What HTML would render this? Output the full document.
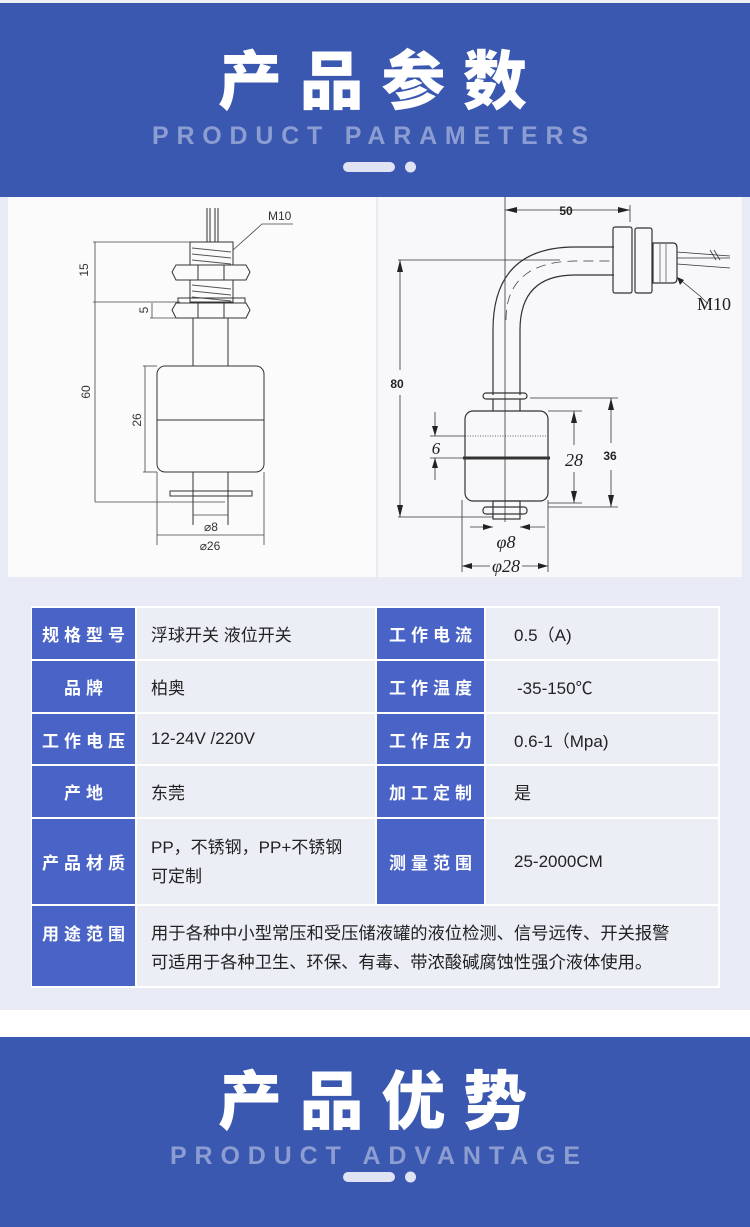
<!DOCTYPE html>
<html><head><meta charset="utf-8"><style>
*{margin:0;padding:0;box-sizing:border-box}
body{width:750px;height:1227px;position:relative;overflow:hidden;background:#fff;font-family:"Liberation Sans","Noto Sans CJK SC",sans-serif}
.abs{position:absolute}
.lab{position:absolute;background:#4a63c6;color:#fff;font-family:"Noto Sans CJK SC",sans-serif;font-weight:700;font-size:17px;letter-spacing:5px;text-indent:5px;display:flex;align-items:center;justify-content:center}
.val{position:absolute;background:#eceef6;color:#222;font-family:"Liberation Sans","Noto Sans CJK SC",sans-serif;font-size:17px;display:flex;align-items:center}
</style></head><body>
<!-- header -->
<div class="abs" style="left:0;top:0;width:750px;height:3px;background:#eef0f4"></div>
<div class="abs" style="left:0;top:3px;width:750px;height:194px;background:#3b58b0"></div>
<svg class="abs" style="left:0;top:0" width="750" height="197">
<text x="218" y="104" textLength="309" lengthAdjust="spacing" font-family="Noto Sans CJK SC" font-weight="900" font-size="64" fill="#fff">产品参数</text>
<text x="152" y="144" textLength="436" lengthAdjust="spacing" font-family="Liberation Sans" font-weight="700" font-size="25" fill="#8c9dd2">PRODUCT PARAMETERS</text>
<rect x="343" y="162" width="52" height="10" rx="5" fill="#dfe3f3"/>
<ellipse cx="410.5" cy="167" rx="5.5" ry="5.5" fill="#dfe3f3"/>
</svg>
<!-- diagram band -->
<div class="abs" style="left:0;top:197px;width:750px;height:413px;background:#e8ebf5"></div>
<div class="abs" style="left:8px;top:197px;width:368px;height:380px;background:#fbfbfc"></div>
<div class="abs" style="left:378px;top:197px;width:364px;height:380px;background:#f8f8fa"></div>
<svg class="abs" style="left:0;top:197px" width="750" height="380" viewBox="0 197 750 380" fill="none" stroke="#333" stroke-width="1">
<g>
<line x1="207" y1="208" x2="207" y2="242"/><line x1="210" y1="208" x2="210" y2="242"/>
<line x1="215" y1="208" x2="215" y2="242"/><line x1="218" y1="208" x2="218" y2="242"/>
<path d="M190 242h43v23h-43z M190 302h43v-22h-43z"/>
<path d="M192 248l39 4M192 254l39 4M192 260l39 4M192 285l39 4M192 291l39 4M192 297l39 4" stroke="#555"/>
<path d="M176 265h70l4 7-4 8h-70l-4-8z M198 265v15M224 265v15"/>
<rect x="178" y="298" width="67" height="5"/>
<path d="M176 303h70l4 7-4 8h-70l-4-8z M198 303v15M224 303v15"/>
<line x1="193" y1="318" x2="193" y2="366"/><line x1="228" y1="318" x2="228" y2="366"/>
<rect x="157" y="366" width="107" height="106" rx="8"/>
<line x1="157" y1="420" x2="264" y2="420"/>
<line x1="193" y1="472" x2="193" y2="525"/><line x1="228" y1="472" x2="228" y2="525"/>
<rect x="170" y="491" width="82" height="5"/>
<g stroke="#444" stroke-width="0.8">
<line x1="93" y1="242" x2="190" y2="242"/><line x1="93" y1="302" x2="180" y2="302"/>
<line x1="95" y1="242" x2="95" y2="502"/><line x1="95" y1="502" x2="225" y2="502"/>
<line x1="152" y1="303" x2="152" y2="318"/><line x1="150" y1="318" x2="176" y2="318"/>
<line x1="145" y1="366" x2="145" y2="472"/><line x1="143" y1="366" x2="157" y2="366"/><line x1="143" y1="472" x2="157" y2="472"/>
<line x1="193" y1="515" x2="228" y2="515"/>
<line x1="157" y1="472" x2="157" y2="545"/><line x1="264" y1="472" x2="264" y2="545"/>
<line x1="157" y1="535" x2="264" y2="535"/>
<path d="M293 224h-31l-29 26"/>
</g>
<g fill="#333" stroke="none" font-family="Liberation Sans" font-size="12">
<text x="268" y="220">M10</text>
<text transform="translate(88,270) rotate(-90)" text-anchor="middle">15</text>
<text transform="translate(148,310) rotate(-90)" text-anchor="middle">5</text>
<text transform="translate(90,392) rotate(-90)" text-anchor="middle">60</text>
<text transform="translate(141,420) rotate(-90)" text-anchor="middle">26</text>
<text x="211" y="531" text-anchor="middle">⌀8</text>
<text x="210" y="550" text-anchor="middle">⌀26</text>
</g>
</g>
<g stroke-width="1.2">
<line x1="505" y1="197" x2="505" y2="522" stroke-width="0.8"/>
<path d="M493 395V330Q493 247 575 247H614"/>
<path d="M520 395V330Q520 275 575 275H614"/>
<path d="M506 320Q506 262 575 261H612" stroke-dasharray="10 6" stroke-width="0.7"/>
<rect x="613" y="227" width="19" height="66" rx="2"/>
<rect x="635" y="228" width="17" height="65" rx="2"/>
<path d="M653 243h20q4 0 4 5v30q0 5-4 5h-20z"/>
<path d="M660 244v38M666 244v38" stroke-width="0.6"/>
<path d="M677 252l53 4M677 258l53 0M677 264l53 4" stroke-width="0.8"/>
<path d="M710 250l6 10M714 250l6 10" stroke-width="0.8"/>
<rect x="483" y="393" width="44" height="6" rx="3"/>
<line x1="493" y1="399" x2="493" y2="411"/><line x1="520" y1="399" x2="520" y2="411"/>
<rect x="465" y="411" width="83" height="90" rx="8"/>
<line x1="463" y1="458" x2="550" y2="458" stroke-width="3"/>
<line x1="465" y1="436" x2="548" y2="436" stroke-dasharray="1 1.5" stroke-width="0.8"/>
<rect x="483" y="507" width="44" height="7" rx="3"/>
<rect x="493" y="501" width="27" height="18"/>
<g stroke-width="0.8">
<line x1="505" y1="210" x2="630" y2="210"/><line x1="630" y1="205" x2="630" y2="222"/>
<line x1="398" y1="260" x2="560" y2="260"/><line x1="398" y1="517" x2="493" y2="517"/>
<line x1="400" y1="260" x2="400" y2="370"/><line x1="400" y1="395" x2="400" y2="517"/>
<line x1="430" y1="436" x2="465" y2="436"/><line x1="430" y1="458" x2="463" y2="458"/>
<line x1="435" y1="412" x2="435" y2="436"/><line x1="435" y1="458" x2="435" y2="480"/>
<line x1="548" y1="411" x2="582" y2="411"/><line x1="548" y1="503" x2="582" y2="503"/>
<line x1="574" y1="411" x2="574" y2="445"/><line x1="574" y1="472" x2="574" y2="503"/>
<line x1="530" y1="398" x2="618" y2="398"/><line x1="548" y1="507" x2="618" y2="507"/>
<line x1="611" y1="398" x2="611" y2="443"/><line x1="611" y1="470" x2="611" y2="507"/>
<line x1="470" y1="527" x2="493" y2="527"/><line x1="520" y1="527" x2="545" y2="527"/>
<line x1="462" y1="500" x2="462" y2="572"/><line x1="548" y1="500" x2="548" y2="572"/>
<line x1="462" y1="566" x2="490" y2="566"/><line x1="522" y1="566" x2="548" y2="566"/>
<path d="M700 296l-22-18"/><path d="M700 296l8 8"/>
</g>
<g fill="#222" stroke="none">
<path d="M505 210l12-3v6z M630 210l-12-3v6z"/>
<path d="M400 260l-3 12h6z M400 517l-3-12h6z"/>
<path d="M435 436l-3-10h6z M435 458l-3 10h6z"/>
<path d="M574 411l-3 12h6z M574 503l-3-12h6z"/>
<path d="M611 398l-3 12h6z M611 507l-3-12h6z"/>
<path d="M493 527l-10-3v6z M520 527l10-3v6z"/>
<path d="M462 566l10-3v6z M548 566l-10-3v6z"/>
<path d="M677 277l3 8 4-5z"/>
</g>
<g fill="#222" stroke="none">
<text x="566" y="215" text-anchor="middle" font-family="Liberation Sans" font-weight="700" font-size="12">50</text>
<text x="397" y="388" text-anchor="middle" font-family="Liberation Sans" font-weight="700" font-size="12">80</text>
<text x="610" y="460" text-anchor="middle" font-family="Liberation Sans" font-weight="700" font-size="12">36</text>
<text x="697" y="310" font-family="Liberation Serif" font-size="18">M10</text>
<text x="436" y="454" text-anchor="middle" font-family="Liberation Serif" font-style="italic" font-size="17">6</text>
<text x="574" y="466" text-anchor="middle" font-family="Liberation Serif" font-style="italic" font-size="18">28</text>
<text x="506" y="548" text-anchor="middle" font-family="Liberation Serif" font-style="italic" font-size="18">φ8</text>
<text x="506" y="572" text-anchor="middle" font-family="Liberation Serif" font-style="italic" font-size="18">φ28</text>
</g>
</g>
</svg>
<!-- table area -->
<div class="abs" style="left:0;top:577px;width:750px;height:433px;background:#e8ebf5"></div>
<div class="abs" style="left:31px;top:606px;width:689px;height:382px;background:#fff"></div>

<div class="lab" style="left:32px;top:608px;width:103px;height:51px">规格型号</div>
<div class="val" style="left:137px;top:608px;width:238px;height:51px;padding-left:14px">浮球开关 液位开关</div>
<div class="lab" style="left:377px;top:608px;width:107px;height:51px">工作电流</div>
<div class="val" style="left:486px;top:608px;width:232px;height:51px;padding-left:28px">0.5（A)</div>

<div class="lab" style="left:32px;top:661px;width:103px;height:51px">品牌</div>
<div class="val" style="left:137px;top:661px;width:238px;height:51px;padding-left:14px">柏奥</div>
<div class="lab" style="left:377px;top:661px;width:107px;height:51px">工作温度</div>
<div class="val" style="left:486px;top:661px;width:232px;height:51px;padding-left:31px">-35-150℃</div>

<div class="lab" style="left:32px;top:714px;width:103px;height:50px">工作电压</div>
<div class="val" style="left:137px;top:714px;width:238px;height:50px;padding-left:14px">12-24V /220V</div>
<div class="lab" style="left:377px;top:714px;width:107px;height:50px">工作压力</div>
<div class="val" style="left:486px;top:714px;width:232px;height:50px;padding-left:28px">0.6-1（Mpa)</div>

<div class="lab" style="left:32px;top:766px;width:103px;height:51px">产地</div>
<div class="val" style="left:137px;top:766px;width:238px;height:51px;padding-left:14px">东莞</div>
<div class="lab" style="left:377px;top:766px;width:107px;height:51px">加工定制</div>
<div class="val" style="left:486px;top:766px;width:232px;height:51px;padding-left:28px">是</div>

<div class="lab" style="left:32px;top:819px;width:103px;height:85px">产品材质</div>
<div class="val" style="left:137px;top:819px;width:238px;height:85px;padding-left:14px;line-height:29px">PP，不锈钢，PP+不锈钢<br>可定制</div>
<div class="lab" style="left:377px;top:819px;width:107px;height:85px">测量范围</div>
<div class="val" style="left:486px;top:819px;width:232px;height:85px;padding-left:28px">25-2000CM</div>

<div class="lab" style="left:32px;top:906px;width:103px;height:80px;align-items:flex-start;padding-top:14px">用途范围</div>
<div class="val" style="left:137px;top:906px;width:581px;height:80px;padding-left:14px;align-items:flex-start;padding-top:13px;line-height:29px;font-size:17.3px">用于各种中小型常压和受压储液罐的液位检测、信号远传、开关报警<br>可适用于各种卫生、环保、有毒、带浓酸碱腐蚀性强介液体使用。</div>

<!-- footer -->
<div class="abs" style="left:0;top:1037px;width:750px;height:190px;background:#3b58b0"></div>
<svg class="abs" style="left:0;top:1037px" width="750" height="190" viewBox="0 1037 750 190">
<text x="218" y="1124" textLength="309" lengthAdjust="spacing" font-family="Noto Sans CJK SC" font-weight="900" font-size="64" fill="#fff">产品优势</text>
<text x="170" y="1164" textLength="410" lengthAdjust="spacing" font-family="Liberation Sans" font-weight="700" font-size="25" fill="#8c9dd2">PRODUCT ADVANTAGE</text>
<rect x="343" y="1172" width="52" height="10" rx="5" fill="#dfe3f3"/>
<ellipse cx="410.5" cy="1177" rx="5.5" ry="5.5" fill="#dfe3f3"/>
</svg>
</body></html>
